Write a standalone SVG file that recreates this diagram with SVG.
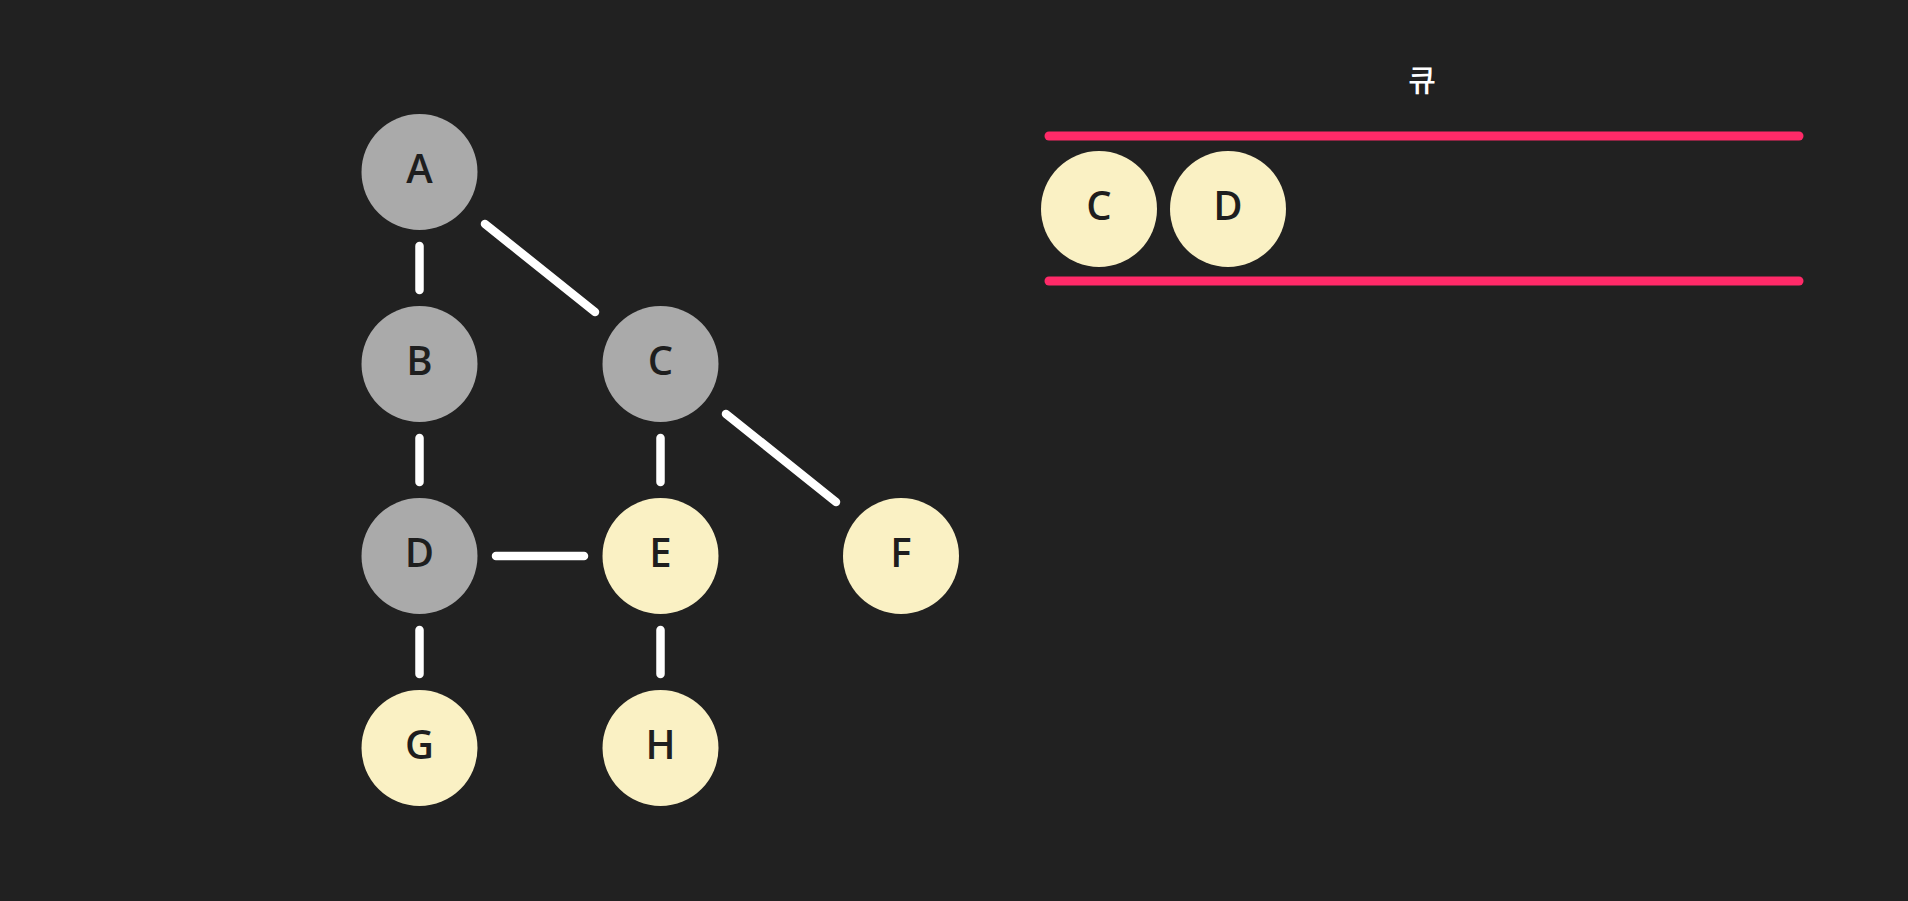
<svg xmlns="http://www.w3.org/2000/svg" width="1908" height="901" viewBox="0 0 1908 901">
<style>
.bg{fill:#212121}
.visited{fill:#aaaaaa}
.queued{fill:#faf1c4}
.lbl{font-family:"Open Sans","Noto Sans",sans-serif;font-size:40px;font-weight:600;fill:#1e1e1e;text-anchor:middle}
.edge{stroke:#ffffff;stroke-width:8.5;stroke-linecap:round;fill:none}
.rail{stroke:#ff2a68;stroke-width:9;stroke-linecap:round}
.title{font-family:"Noto Sans CJK KR","Noto Sans",sans-serif;font-size:30px;font-weight:500;fill:#ffffff;text-anchor:middle}
</style>
<rect class="bg" x="0" y="0" width="1908" height="901"/>
<g id="connectors">
<line class="edge" x1="419.5" y1="246" x2="419.5" y2="290"/>
<line class="edge" x1="485" y1="224" x2="595" y2="312"/>
<line class="edge" x1="419.5" y1="438" x2="419.5" y2="482"/>
<line class="edge" x1="660.5" y1="438" x2="660.5" y2="482"/>
<line class="edge" x1="726" y1="414" x2="836" y2="502"/>
<line class="edge" x1="496" y1="556" x2="584" y2="556"/>
<line class="edge" x1="419.5" y1="630" x2="419.5" y2="674"/>
<line class="edge" x1="660.5" y1="630" x2="660.5" y2="674"/>
</g>
<g id="node-A"><circle class="visited" cx="419.5" cy="172" r="58"/><text class="lbl" x="419.5" y="183">A</text></g>
<g id="node-B"><circle class="visited" cx="419.5" cy="364" r="58"/><text class="lbl" x="419.5" y="375">B</text></g>
<g id="node-C"><circle class="visited" cx="660.5" cy="364" r="58"/><text class="lbl" x="660.5" y="375">C</text></g>
<g id="node-D"><circle class="visited" cx="419.5" cy="556" r="58"/><text class="lbl" x="419.5" y="567">D</text></g>
<g id="node-E"><circle class="queued" cx="660.5" cy="556" r="58"/><text class="lbl" x="660.5" y="567">E</text></g>
<g id="node-F"><circle class="queued" cx="901" cy="556" r="58"/><text class="lbl" x="901" y="567">F</text></g>
<g id="node-G"><circle class="queued" cx="419.5" cy="748" r="58"/><text class="lbl" x="419.5" y="759">G</text></g>
<g id="node-H"><circle class="queued" cx="660.5" cy="748" r="58"/><text class="lbl" x="660.5" y="759">H</text></g>
<g id="queue">
<text class="title" x="1422" y="91">큐</text>
<line class="rail" x1="1049" y1="136" x2="1799" y2="136"/>
<line class="rail" x1="1049" y1="281" x2="1799" y2="281"/>
</g>
<g id="queue-C"><circle class="queued" cx="1099" cy="209" r="58"/><text class="lbl" x="1099" y="220">C</text></g>
<g id="queue-D"><circle class="queued" cx="1228" cy="209" r="58"/><text class="lbl" x="1228" y="220">D</text></g>
</svg>
